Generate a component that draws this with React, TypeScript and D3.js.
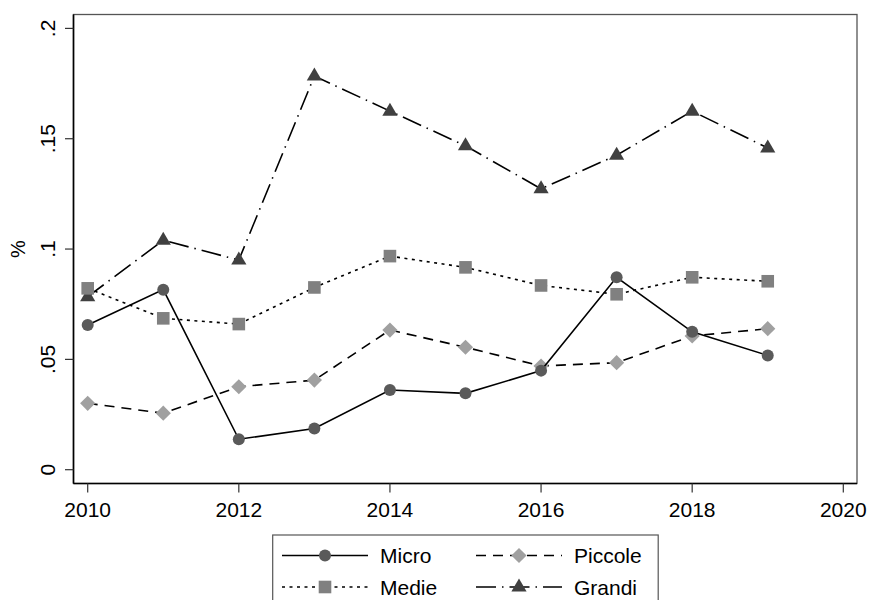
import React from "react";
import * as d3 from "d3";

const years = [2010, 2011, 2012, 2013, 2014, 2015, 2016, 2017, 2018, 2019];
const micro = [0.0656, 0.0816, 0.0138, 0.0187, 0.0361, 0.0346, 0.0449, 0.0872, 0.0625, 0.0518];
const piccole = [0.0301, 0.0256, 0.0376, 0.0406, 0.0633, 0.0555, 0.047, 0.0485, 0.0606, 0.0639];
const medie = [0.0822, 0.0686, 0.066, 0.0826, 0.0968, 0.0917, 0.0835, 0.0795, 0.0872, 0.0854];
const grandi = [0.0784, 0.104, 0.095, 0.1784, 0.1625, 0.1468, 0.1273, 0.1425, 0.1625, 0.1458];
const xTicks = [2010, 2012, 2014, 2016, 2018, 2020];
const yTicks = [0, 0.05, 0.1, 0.15, 0.2];
const yTickLabels = ["0", ".05", ".1", ".15", ".2"];
const seriesNames = ["Micro", "Piccole", "Medie", "Grandi"];

const W = 869, H = 600;
const FONT = "Arial, 'Liberation Sans', sans-serif";

type Style = { dash: string; marker: string; fill: string };
const styles: Record<string, Style> = {
  Micro: { dash: "", marker: "circle", fill: "#5a5a5a" },
  Piccole: { dash: "10,7", marker: "diamond", fill: "#a0a0a0" },
  Medie: { dash: "3,4.5", marker: "square", fill: "#808080" },
  Grandi: { dash: "20,6,1.5,6", marker: "triangle", fill: "#404040" },
};

function Marker({ kind, x, y, fill }: { kind: string; x: number; y: number; fill: string }) {
  if (kind === "circle") return <circle cx={x} cy={y} r={6} fill={fill} />;
  if (kind === "square") return <rect x={x - 6.3} y={y - 6.3} width={12.6} height={12.6} fill={fill} />;
  if (kind === "diamond")
    return <path d={`M${x},${y - 7.6}L${x + 7.6},${y}L${x},${y + 7.6}L${x - 7.6},${y}Z`} fill={fill} />;
  return <path d={`M${x},${y - 8.5}L${x + 7.6},${y + 4.5}L${x - 7.6},${y + 4.5}Z`} fill={fill} />;
}

export default function App() {
  const x = d3.scaleLinear().domain([2010, 2020]).range([87.7, 843.3]);
  const y = d3.scaleLinear().domain([0, 0.2]).range([469.7, 28.4]);
  const left = 73.5, right = 857, top = 14.5, bottom = 483.5;
  const data: Record<string, number[]> = { Micro: micro, Piccole: piccole, Medie: medie, Grandi: grandi };
  const line = d3.line<number>().x((_, i) => x(years[i])).y((d) => y(d));
  const drawOrder = ["Grandi", "Medie", "Piccole", "Micro"];

  const legendItems = [
    { name: seriesNames[0], lx: 282, tx: 380, ty: 563 },
    { name: seriesNames[1], lx: 476, tx: 574, ty: 563 },
    { name: seriesNames[2], lx: 282, tx: 380, ty: 594.5 },
    { name: seriesNames[3], lx: 476, tx: 574, ty: 594.5 },
  ];

  return (
    <svg width={W} height={H} style={{ position: "absolute", left: 0, top: 0, background: "#fff" }} fontFamily={FONT}>
      <rect x={0} y={0} width={W} height={H} fill="#fff" />
      <rect x={left} y={top} width={right - left} height={bottom - top} fill="none" stroke="#555" strokeWidth={1.3} />
      <line x1={left} x2={left} y1={top} y2={bottom} stroke="#000" strokeWidth={1.6} />
      <line x1={left} x2={right} y1={bottom} y2={bottom} stroke="#000" strokeWidth={1.6} />
      {yTicks.map((t, i) => (
        <g key={"y" + t}>
          <line x1={left - 8.5} x2={left} y1={y(t)} y2={y(t)} stroke="#333" strokeWidth={1.2} />
          <text transform={`translate(55,${y(t)}) rotate(-90)`} textAnchor="middle" fontSize={21} fill="#000">
            {yTickLabels[i]}
          </text>
        </g>
      ))}
      {xTicks.map((t) => (
        <g key={"x" + t}>
          <line x1={x(t)} x2={x(t)} y1={bottom} y2={bottom + 9} stroke="#333" strokeWidth={1.2} />
          <text x={x(t)} y={517} textAnchor="middle" fontSize={21} fill="#000">
            {t}
          </text>
        </g>
      ))}
      <text transform={`translate(25,${(top + bottom) / 2}) rotate(-90)`} textAnchor="middle" fontSize={20} fill="#000">
        %
      </text>
      {drawOrder.map((name) => (
        <g key={name}>
          <path d={line(data[name]) || ""} fill="none" stroke="#000" strokeWidth={1.6} strokeDasharray={styles[name].dash} />
          {data[name].map((v, i) => (
            <Marker key={i} kind={styles[name].marker} x={x(years[i])} y={y(v)} fill={styles[name].fill} />
          ))}
        </g>
      ))}
      <rect x={272.7} y={535} width={385.5} height={70} fill="#fff" stroke="#555" strokeWidth={1.2} />
      {legendItems.map((it) => {
        const ly = it.ty - 7.5;
        return (
          <g key={it.name}>
            <line x1={it.lx} x2={it.lx + 86} y1={ly} y2={ly} stroke="#000" strokeWidth={1.6} strokeDasharray={styles[it.name].dash} />
            <Marker kind={styles[it.name].marker} x={it.lx + 43} y={ly} fill={styles[it.name].fill} />
            <text x={it.tx} y={it.ty} fontSize={21} fill="#000">
              {it.name}
            </text>
          </g>
        );
      })}
    </svg>
  );
}
